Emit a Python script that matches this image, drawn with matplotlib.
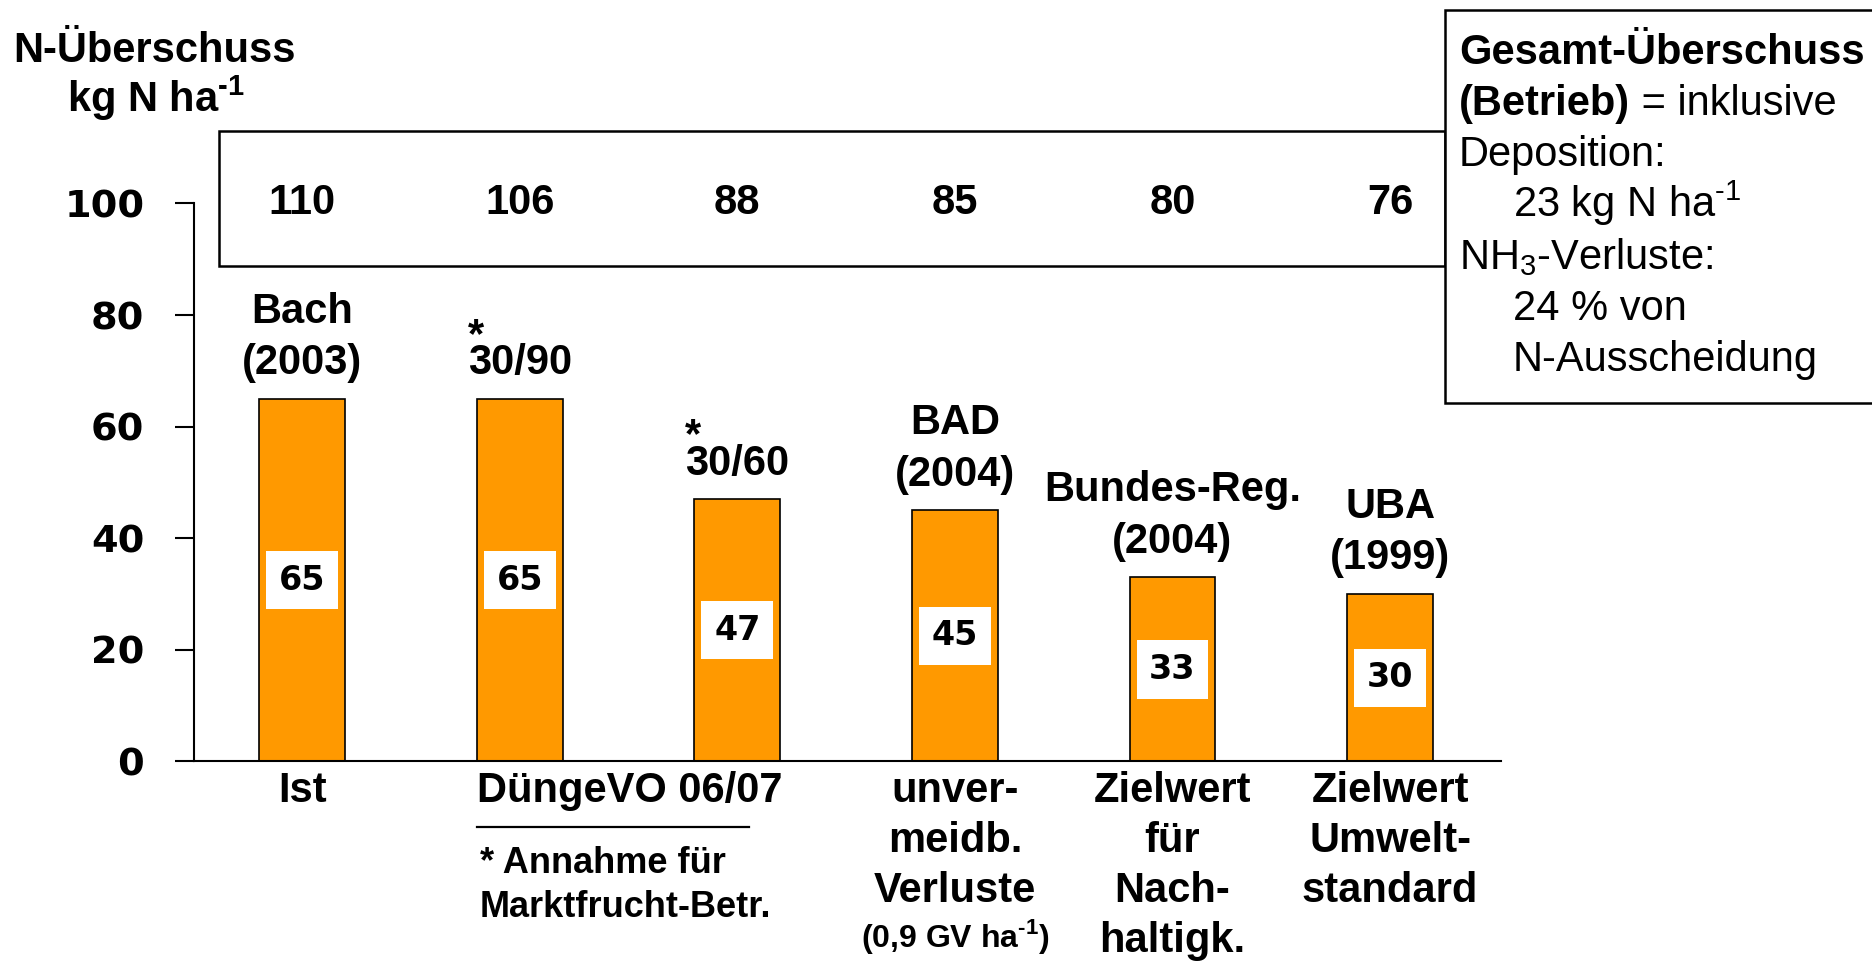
import matplotlib
matplotlib.use("Agg")
import matplotlib.pyplot as plt
from matplotlib.patches import Rectangle

# N-Überschuss (Fläche) je Szenario und Gesamt-Überschuss (Betrieb) im Kasten
surplus = [65, 65, 47, 45, 33, 30]
total_surplus = [110, 106, 88, 85, 80, 76]
sources = ["Bach\n(2003)", "30/90", "30/60", "BAD\n(2004)", "Bundes-Reg.\n(2004)", "UBA\n(1999)"]
starred = [False, True, True, False, False, False]

cat_labels = ["Ist", "DüngeVO 06/07", "unver-\nmeidb.\nVerluste",
              "Zielwert\nfür\nNach-\nhaltigk.", "Zielwert\nUmwelt-\nstandard"]
cat_bars = [[0], [1, 2], [3], [4], [5]]

# Hochgestelltes "-1" mit kurzem Bindestrich statt Minuszeichen
PER_HA = "ha$^{\\mathregular{\u20101}}$"
cat_note = "(0,9 GV " + PER_HA + ")"
footnote = "* Annahme für\nMarktfrucht-Betr."

yticks = [0, 20, 40, 60, 80, 100]

info_lines = [
    ("Gesamt-Überschuss", "", 0),
    ("(Betrieb)", " = inklusive", 0),
    ("", "Deposition:", 0),
    ("", "23 kg N " + PER_HA, 1),
    ("", r"NH$_{\mathregular{3}}$-Verluste:", 0),
    ("", "24 % von", 1),
    ("", "N-Ausscheidung", 1),
]

SANS = ["Liberation Sans", "DejaVu Sans"]
WIDE = "DejaVu Sans"
ORANGE = "#FF9900"
BAR_W = 0.395
W, H = 1872, 964
STEP = 9.2  # Zeilenabstand in Dateneinheiten


def fig_xy(px, py):
    return px / W, 1 - py / H


def stacked(ax, xpos, y_first, text, step, **kw):
    # mehrzeiliger Text, jede Zeile auf eigener Grundlinie
    arts = []
    for k, line in enumerate(text.split("\n")):
        arts.append(ax.text(xpos, y_first - k * step, line, va="baseline", **kw))
    return arts


fig = plt.figure(figsize=(W / 100, H / 100), dpi=100)
ax = fig.add_axes([0.1038, 0.2101, 0.6979, 0.5789])

x = list(range(len(surplus)))
ax.bar(x, surplus, width=BAR_W, color=ORANGE, edgecolor="black", linewidth=1.2, zorder=2)
ax.set_xlim(-0.496, 5.509)
ax.set_ylim(0, 100)
ax.set_yticks(yticks)
ax.set_yticklabels([str(v) for v in yticks], fontsize=27.5, fontweight="bold", family=WIDE)
ax.tick_params(axis="y", direction="out", length=14, width=1.5, pad=22)
ax.set_xticks([])
ax.spines["top"].set_visible(False)
ax.spines["right"].set_visible(False)
ax.spines["left"].set_linewidth(1.5)
ax.spines["bottom"].set_linewidth(1.5)

# Werte in den Balken
for xi, v in zip(x, surplus):
    ax.text(xi, v / 2, str(v), ha="center", va="center", fontsize=24,
            fontweight="bold", family=WIDE, zorder=3,
            bbox=dict(boxstyle="square,pad=0.38", fc="white", ec="none"))

# Kasten mit Gesamt-Überschuss
ax.add_patch(Rectangle((-0.381, 88.7), 5.634, 24.2, fill=False, ec="black",
                       lw=1.8, clip_on=False))
for xi, t in zip(x, total_surplus):
    ax.text(xi, 98.1, str(t), ha="center", va="baseline", fontsize=30,
            fontweight="bold", family=SANS)

# Quellen über den Balken
for xi, v, src, star in zip(x, surplus, sources, starred):
    n = src.count("\n")
    arts = stacked(ax, xi, v + 4.4 + n * STEP, src, STEP, ha="center",
                   fontsize=30, fontweight="bold", family=SANS)
    if star:
        ax.annotate("*", xy=(0, 1), xycoords=arts[0], xytext=(0, -2.5),
                    textcoords="offset points", ha="left", va="baseline",
                    fontsize=30, fontweight="bold", family=SANS)

# Kategorien unter der Achse
for label, bars in zip(cat_labels, cat_bars):
    if len(bars) > 1:
        xpos, ha = bars[0] - BAR_W / 2, "left"
    else:
        xpos, ha = bars[0], "center"
    stacked(ax, xpos, -7.2, label, 9.0, ha=ha, fontsize=30,
            fontweight="bold", family=SANS)
ax.text(3, -33.2, cat_note, ha="center", va="baseline", fontsize=23,
        fontweight="bold", family=SANS)

ax.plot([1 - BAR_W / 2, 2.055], [-11.8, -11.8], color="black", lw=1.6, clip_on=False)
stacked(ax, 1 - BAR_W / 2 + 0.015, -19.9, footnote, 7.9, ha="left",
        fontsize=26, fontweight="bold", family=SANS)

# Achsentitel
fig.text(*fig_xy(13, 61.7), "N-Überschuss", ha="left", va="baseline",
         fontsize=30, fontweight="bold", family=SANS)
fig.text(*fig_xy(67, 111.7), "kg N " + PER_HA, ha="left",
         va="baseline", fontsize=30, fontweight="bold", family=SANS)

# Infokasten rechts
x0, y0 = fig_xy(1445, 403.3)
fig.add_artist(Rectangle((x0, y0), 0.3, (403.3 - 10) / H, transform=fig.transFigure,
                         fc="white", ec="black", lw=1.8, zorder=5))
renderer = fig.canvas.get_renderer()
for i, (bold, normal, indent) in enumerate(info_lines):
    px = 1459 + 54 * indent
    py = 63.5 + 51.3 * i
    if bold:
        tb = fig.text(*fig_xy(px, py), bold, ha="left", va="baseline", fontsize=30,
                      fontweight="bold", family=SANS, zorder=6)
        px = tb.get_window_extent(renderer).x1
    if normal:
        fig.text(*fig_xy(px, py), normal, ha="left", va="baseline", fontsize=30,
                 family=SANS, zorder=6)

fig.savefig("out.png", dpi=100)
